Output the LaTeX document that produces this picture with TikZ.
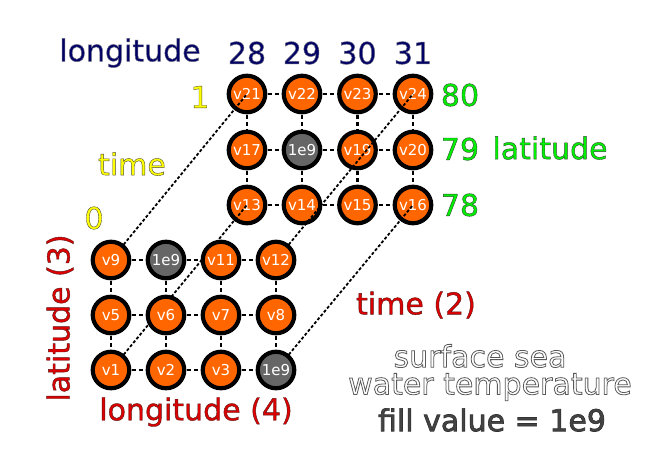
\documentclass[tikz,border=0pt]{standalone}
\usepackage{fontspec}
\setmainfont{DejaVu Sans}
\definecolor{vorange}{HTML}{FF6600}
\definecolor{fillgray}{HTML}{666666}
\definecolor{navy}{HTML}{000066}
\definecolor{lyellow}{HTML}{FFFF00}
\definecolor{lgreen}{HTML}{00EE00}
\definecolor{lred}{HTML}{DD0000}
\definecolor{txtgray}{HTML}{444444}
% outlined text: #1 = stroke rgb, #2 = width (bp), #3 = text
\newcommand{\olt}[3]{\special{pdf:literal direct 2 Tr #2 w #1 RG}#3\special{pdf:literal direct 0 Tr}}
\tikzset{
  vnode/.style={circle, draw=black, line width=4.2pt, fill=vorange, minimum size=36.5pt,
    inner sep=0pt, text=white, font=\fontsize{15}{15}\selectfont},
  fnode/.style={vnode, fill=fillgray},
  gridlink/.style={line width=2.3pt, dash pattern=on 4pt off 3pt},
  diaglink/.style={line width=1.8pt, dash pattern=on 3pt off 2pt},
  biglabel/.style={inner sep=0pt, font=\fontsize{30}{32}\selectfont},
}
\begin{document}
\begin{tikzpicture}[x=1pt,y=-1pt]
\useasboundingbox (0,0) rectangle (655,463);
% back grid (time 1)
\foreach \n/\x/\y in {21/247/94,22/302/94,23/357.5/94,24/413/94,
  17/247/150,18/302/150,19/357.5/150,20/413/150,
  13/247/205,14/302/205,15/357.5/205,16/413/205}
  \coordinate (c\n) at (\x,\y);
\foreach \n/\x/\y in {9/111/260,10/166/260,11/221/260,12/276/260,
  5/111/315,6/166/315,7/221/315,8/276/315,
  1/111/370,2/166/370,3/221/370,4/276/370}
  \coordinate (c\n) at (\x,\y);
% back grid links
\foreach \a/\b in {21/22,22/23,23/24,17/18,18/19,19/20,13/14,14/15,15/16,
  21/17,17/13,22/18,18/14,23/19,19/15,24/20,20/16}
  \draw[gridlink] (c\a) -- (c\b);
% back nodes
\foreach \n in {21,22,23,24,17,19,20,13,14,15,16}
  \node[vnode] (n\n) at (c\n) {v\n};
\node[fnode] (n18) at (c18) {1e9};
% diagonal links
\draw[diaglink] (c9) -- (n21.center);
\draw[diaglink] (c1) -- (n13.center);
\draw[diaglink] (c12) -- (n24.center);
\draw[diaglink] (c4) -- (n16.center);
% front grid links
\foreach \a/\b in {9/10,10/11,11/12,5/6,6/7,7/8,1/2,2/3,3/4,
  9/5,5/1,10/6,6/2,11/7,7/3,12/8,8/4}
  \draw[gridlink] (c\a) -- (c\b);
% front nodes
\foreach \n in {9,11,12,5,6,7,8,1,2,3}
  \node[vnode] (n\n) at (c\n) {v\n};
\node[fnode] (n10) at (c10) {1e9};
\node[fnode] (n4) at (c4) {1e9};
% header labels
\node[biglabel, text=navy] (lonh) at (130,53) {\olt{0.4 0.4 0.5}{0.5}{longitude}};
\node[biglabel, text=navy] (h28) at (247,53) {\olt{0.4 0.4 0.5}{0.5}{28}};
\node[biglabel, text=navy] (h29) at (302,53) {\olt{0.4 0.4 0.5}{0.5}{29}};
\node[biglabel, text=navy] (h30) at (357.5,53) {\olt{0.4 0.4 0.5}{0.5}{30}};
\node[biglabel, text=navy] (h31) at (413,53) {\olt{0.4 0.4 0.5}{0.5}{31}};
% time labels
\node[biglabel, text=lyellow] (t1) at (200,97) {\olt{0.3 0.3 0.2}{0.4}{1}};
\node[biglabel, text=lyellow] (tt) at (132,164) {\olt{0.3 0.3 0.2}{0.4}{time}};
\node[biglabel, text=lyellow] (t0) at (94,218) {\olt{0.3 0.3 0.2}{0.4}{0}};
% latitude labels
\node[biglabel, text=lgreen] (l80) at (460,95) {\olt{0.2 0.3 0.2}{0.4}{80}};
\node[biglabel, text=lgreen] (l79) at (460,149) {\olt{0.2 0.3 0.2}{0.4}{79}};
\node[biglabel, text=lgreen] (l78) at (460,205) {\olt{0.2 0.3 0.2}{0.4}{78}};
\node[biglabel, text=lgreen] (lat) at (550,148) {\olt{0.2 0.3 0.2}{0.4}{latitude}};
% dimension labels
\node[biglabel, text=lred, rotate=90] (dlat) at (60,318) {\olt{0.35 0.1 0.1}{0.4}{latitude (3)}};
\node[biglabel, text=lred] (dlon) at (196,412) {\olt{0.35 0.1 0.1}{0.4}{longitude (4)}};
\node[biglabel, text=lred] (dtime) at (416,305) {\olt{0.35 0.1 0.1}{0.4}{time (2)}};
% title
\node[biglabel, text=white] (s1) at (480,356) {\olt{0.35 0.35 0.35}{0.8}{surface sea}};
\node[biglabel, text=white] (s2) at (490,387) {\olt{0.35 0.35 0.35}{0.8}{water temperature}};
\node[biglabel, text=txtgray] (s3) at (492,420) {\olt{0.2 0.2 0.2}{0.7}{fill value = 1e9}};
\end{tikzpicture}
\end{document}
